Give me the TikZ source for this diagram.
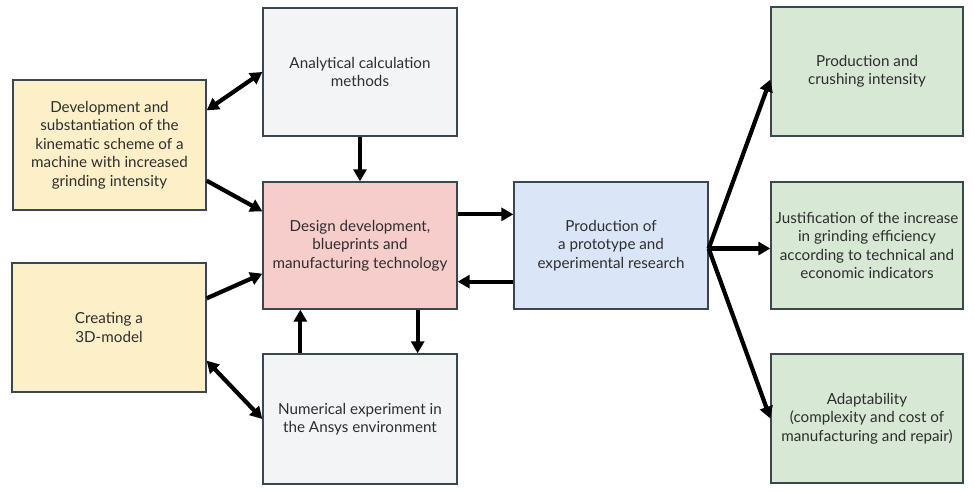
\documentclass[tikz,border=0pt]{standalone}
\usepackage{fontspec}
\setmainfont{Lato}
\usetikzlibrary{arrows.meta}
\definecolor{bordc}{HTML}{3A4650}
\definecolor{txtc}{HTML}{2E2E2E}
\definecolor{yel}{HTML}{FDF0C8}
\definecolor{gry}{HTML}{F3F4F6}
\definecolor{pnk}{HTML}{F6CDCB}
\definecolor{blu}{HTML}{DAE6F8}
\definecolor{grn}{HTML}{D7E8D4}
\tikzset{
  box/.style={draw=bordc, line width=1.3pt, rectangle, minimum width=194pt, minimum height=128pt,
    align=center, text=txtc, font=\fontsize{15.2}{18.4}\selectfont, inner sep=1pt},
  conn/.style={line width=4.2pt, -{Triangle[length=12pt,width=13pt]}},
  bconn/.style={line width=4.2pt, {Triangle[length=12pt,width=13pt]}-{Triangle[length=12pt,width=13pt]}},
}
\begin{document}
\begin{tikzpicture}[x=1pt,y=-1pt]
\useasboundingbox (0,0) rectangle (975,492);
\node[box, fill=gry] (A) at (360,72) {Analytical calculation\\methods};
\node[box, fill=yel, minimum width=193pt, minimum height=130pt] (D) at (109.5,145) {Development and\\substantiation of the\\kinematic scheme of a\\machine with increased\\grinding intensity};
\node[box, fill=pnk, minimum height=127pt] (Des) at (360,245.5) {Design development,\\blueprints and\\manufacturing technology};
\node[box, fill=yel, minimum height=129pt] (C) at (109,327.5) {Creating a\\3D-model};
\node[box, fill=gry, minimum height=130pt] (N) at (360,419) {Numerical experiment in\\the Ansys environment};
\node[box, fill=blu, minimum height=127pt] (P) at (611,245.5) {Production of\\a prototype and\\experimental research};
\node[box, fill=grn, minimum width=192pt, minimum height=129pt] (G1) at (867,71.5) {Production and\\crushing intensity};
\node[box, fill=grn, minimum width=192pt, minimum height=127pt] (G2) at (867,245.5) {Justification of the increase\\in grinding efficiency\\according to technical and\\economic indicators};
\node[box, fill=grn, minimum width=192pt, minimum height=129pt] (G3) at (867,418.5) {Adaptability\\(complexity and cost of\\manufacturing and repair)};

\draw[bconn] ([yshift=-31pt]D.north east) -- (A.west);
\draw[conn] ([yshift=30pt]D.south east) -- ([yshift=-30pt]Des.north west);
\draw[conn] (A.south) -- (Des.north);
\draw[conn] ([yshift=-33pt]Des.north east) -- ([yshift=-33pt]P.north west);
\draw[conn] ([yshift=28pt]P.south west) -- ([yshift=28pt]Des.south east);
\draw[conn] ([yshift=-36pt]C.north east) -- ([yshift=36pt]Des.south west);
\draw[conn] ([xshift=38pt]N.north west) -- ([xshift=38pt]Des.south west);
\draw[conn] ([xshift=-40pt]Des.south east) -- ([xshift=-40pt]N.north east);
\draw[bconn] ([yshift=32pt]C.south east) -- (N.west);
\coordinate (br) at ([yshift=-3pt]P.east);
\draw[conn] (br) -- ([yshift=-8pt]G1.west);
\draw[conn] (br) -- ([yshift=-3pt]G2.west);
\draw[conn] (br) -- (G3.west);
\end{tikzpicture}
\end{document}
